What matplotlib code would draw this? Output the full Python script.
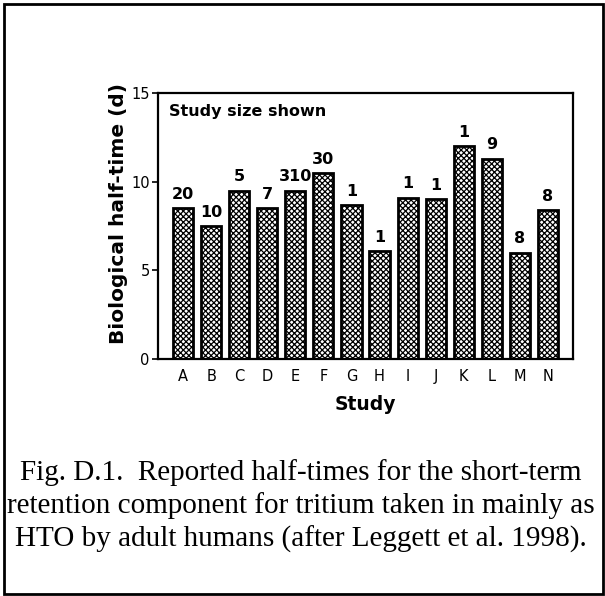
import matplotlib
matplotlib.use("Agg")
import matplotlib.pyplot as plt
from matplotlib.patches import Rectangle

studies = ["A", "B", "C", "D", "E", "F", "G", "H", "I", "J", "K", "L", "M", "N"]
half_times = [8.5, 7.5, 9.5, 8.5, 9.5, 10.5, 8.7, 6.1, 9.1, 9.0, 12.0, 11.3, 6.0, 8.4]
study_sizes = ["20", "10", "5", "7", "310", "30", "1", "1", "1", "1", "1", "9", "8", "8"]
y_ticks = [0, 5, 10, 15]

plt.rcParams['hatch.linewidth'] = 0.9
plt.rcParams['font.family'] = ['DejaVu Sans']

W, H = 605, 596
fig = plt.figure(figsize=(W / 100, H / 100), dpi=100)

ax = fig.add_axes([158 / W, 1 - 359 / H, (573 - 158) / W, (359 - 93) / H])
x = list(range(len(studies)))
ax.bar(x, half_times, width=0.72, color="white", edgecolor="black",
       linewidth=2.0, hatch="xxxxxx")
for xi, h, s in zip(x, half_times, study_sizes):
    ax.text(xi, h + 0.35, s, ha="center", va="bottom", fontsize=11.5,
            fontweight="bold")

ax.set_xlim(-0.89, len(studies) - 1 + 0.89)
ax.set_ylim(0, 15)
ax.set_yticks(y_ticks)
ax.set_xticks(x)
ax.set_xticklabels(studies)
ax.tick_params(axis="x", length=0, pad=7, labelsize=10.5)
ax.tick_params(axis="y", length=4, width=1.2, pad=2, labelsize=10.5, direction="out")
for sp in ax.spines.values():
    sp.set_linewidth(1.6)

fig.text(169 / W, 1 - 112 / H, "Study size shown", ha="left", va="center",
         fontsize=11.5, fontweight="bold")

fig.text(365 / W, 1 - 404 / H, "Study", ha="center", va="center",
         fontsize=13.5, fontweight="bold")
fig.text(118 / W, 1 - 214 / H, "Biological half-time (d)", ha="center",
         va="center", rotation=90, fontsize=14.5, fontweight="bold")

caption = ["Fig. D.1.  Reported half-times for the short-term",
           "retention component for tritium taken in mainly as",
           "HTO by adult humans (after Leggett et al. 1998)."]
for i, line in enumerate(caption):
    fig.text(301 / W, 1 - (473 + 33 * i) / H, line, ha="center", va="center",
             fontsize=21, family=["Liberation Serif"])

fig.patches.append(Rectangle((4 / W, 1 - 594 / H), (603 - 4) / W, (594 - 4) / H,
                             transform=fig.transFigure, fill=False,
                             edgecolor="black", linewidth=2))

fig.savefig("out.png", dpi=100)
